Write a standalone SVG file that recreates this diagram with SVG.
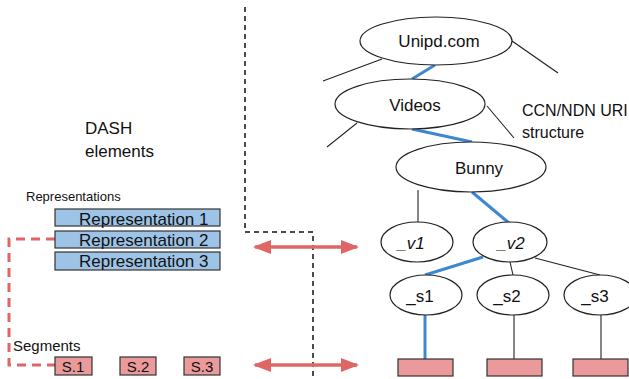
<svg xmlns="http://www.w3.org/2000/svg" width="629" height="379" viewBox="0 0 629 379">
  <style>
    text { font-family: "Liberation Sans", Arial, sans-serif; fill: #111; }
    .node ellipse { fill: #fff; stroke: #222; stroke-width: 1.2; }
    .lbl { font-size: 17px; text-anchor: middle; }
    .it { font-style: italic; }
    .rep rect { fill: #9dc3e6; stroke: #333; stroke-width: 1.2; }
    .seg rect { fill: #ea9a9a; stroke: #333; stroke-width: 1.2; }
    .thin { stroke: #222; stroke-width: 1.1; fill: none; }
    .blue { stroke: #3f88cf; stroke-width: 3; fill: none; }
    .divider { stroke: #111; stroke-width: 1.5; stroke-dasharray: 5 4; fill: none; }
    .reddash { stroke: #e06666; stroke-width: 3; stroke-dasharray: 9 6; fill: none; }
    .redarrow { stroke: #e06666; stroke-width: 3.5; fill: none; }
  </style>
  <defs>
    <marker id="head" viewBox="0 0 18 14" refX="16" refY="7" markerWidth="18" markerHeight="14" markerUnits="userSpaceOnUse" orient="auto-start-reverse">
      <path d="M0,0 L18,7 L0,14 Z" fill="#e06666"/>
    </marker>
  </defs>

  <!-- side labels -->
  <text x="85" y="134" font-size="17">DASH</text>
  <text x="85" y="157" font-size="17">elements</text>
  <text x="522" y="116" font-size="16">CCN/NDN URI</text>
  <text x="522" y="138" font-size="16">structure</text>
  <text x="26" y="201" font-size="13">Representations</text>
  <text x="13" y="351" font-size="15">Segments</text>

  <!-- connectors -->
  <g id="connectors">
    <!-- separator between the two halves -->
    <path class="divider" d="M245,7 V232 H313 V379"/>
    <!-- representation 2 to its segments -->
    <path class="reddash" d="M55,239 H9 V365 H55"/>
    <!-- mapping arrows -->
    <line class="redarrow" x1="255" y1="247" x2="357" y2="247" marker-start="url(#head)" marker-end="url(#head)"/>
    <line class="redarrow" x1="255" y1="365" x2="357" y2="365" marker-start="url(#head)" marker-end="url(#head)"/>
    <!-- tree edges -->
    <line class="thin" x1="382" y1="59" x2="323" y2="81"/>
    <line class="thin" x1="512" y1="41" x2="558" y2="73"/>
    <line class="blue" x1="435" y1="65" x2="412" y2="79"/>
    <line class="thin" x1="357" y1="123" x2="327" y2="147"/>
    <line class="thin" x1="487" y1="106" x2="514" y2="138"/>
    <line class="blue" x1="412" y1="129" x2="472" y2="142"/>
    <line class="thin" x1="418" y1="190" x2="418" y2="222"/>
    <line class="blue" x1="472" y1="192" x2="509" y2="223"/>
    <line class="blue" x1="483" y1="257" x2="425" y2="275"/>
    <line class="thin" x1="510" y1="262" x2="513" y2="275"/>
    <line class="thin" x1="535" y1="258" x2="600" y2="275"/>
    <line class="blue" x1="425" y1="315" x2="425" y2="359"/>
    <line class="thin" x1="514" y1="315" x2="514" y2="359"/>
    <line class="thin" x1="601" y1="315" x2="601" y2="359"/>
  </g>

  <!-- DASH representations -->
  <g id="rep1" class="rep">
    <rect x="55" y="209" width="165" height="17"/>
    <text x="79" y="225" font-size="17">Representation 1</text>
  </g>
  <g id="rep2" class="rep">
    <rect x="55" y="231" width="165" height="17"/>
    <text x="79" y="246" font-size="17">Representation 2</text>
  </g>
  <g id="rep3" class="rep">
    <rect x="55" y="252" width="165" height="18"/>
    <text x="79" y="267" font-size="17">Representation 3</text>
  </g>

  <!-- DASH segments -->
  <g id="seg1" class="seg">
    <rect x="55" y="357" width="37" height="18"/>
    <text x="73" y="372" font-size="15" text-anchor="middle">S.1</text>
  </g>
  <g id="seg2" class="seg">
    <rect x="120" y="357" width="36" height="18"/>
    <text x="138" y="372" font-size="15" text-anchor="middle">S.2</text>
  </g>
  <g id="seg3" class="seg">
    <rect x="184" y="357" width="36" height="18"/>
    <text x="202" y="372" font-size="15" text-anchor="middle">S.3</text>
  </g>

  <!-- CCN/NDN name tree -->
  <g id="unipd" class="node">
    <ellipse cx="436" cy="41" rx="76" ry="24"/>
    <text class="lbl" x="439" y="47">Unipd.com</text>
  </g>
  <g id="videos" class="node">
    <ellipse cx="410" cy="104" rx="75" ry="25"/>
    <text class="lbl" x="415" y="111">Videos</text>
  </g>
  <g id="bunny" class="node">
    <ellipse cx="471" cy="167" rx="75" ry="25"/>
    <text class="lbl" x="479" y="174">Bunny</text>
  </g>
  <g id="v1" class="node">
    <ellipse cx="417" cy="242" rx="36" ry="20"/>
    <text class="lbl it" x="411" y="249">_v1</text>
  </g>
  <g id="v2" class="node">
    <ellipse cx="510" cy="242" rx="37" ry="20"/>
    <text class="lbl it" x="511" y="249">_v2</text>
  </g>
  <g id="s1" class="node">
    <ellipse cx="426" cy="295" rx="36" ry="20"/>
    <text class="lbl" x="420" y="302">_s1</text>
  </g>
  <g id="s2" class="node">
    <ellipse cx="513" cy="295" rx="36" ry="20"/>
    <text class="lbl" x="507" y="302">_s2</text>
  </g>
  <g id="s3" class="node">
    <ellipse cx="600" cy="295" rx="36" ry="20"/>
    <text class="lbl" x="595" y="302">_s3</text>
  </g>

  <!-- content chunks -->
  <g id="chunk1" class="seg">
    <rect x="398" y="359" width="55" height="17"/>
  </g>
  <g id="chunk2" class="seg">
    <rect x="487" y="359" width="55" height="17"/>
  </g>
  <g id="chunk3" class="seg">
    <rect x="573" y="359" width="55" height="17"/>
  </g>
</svg>
